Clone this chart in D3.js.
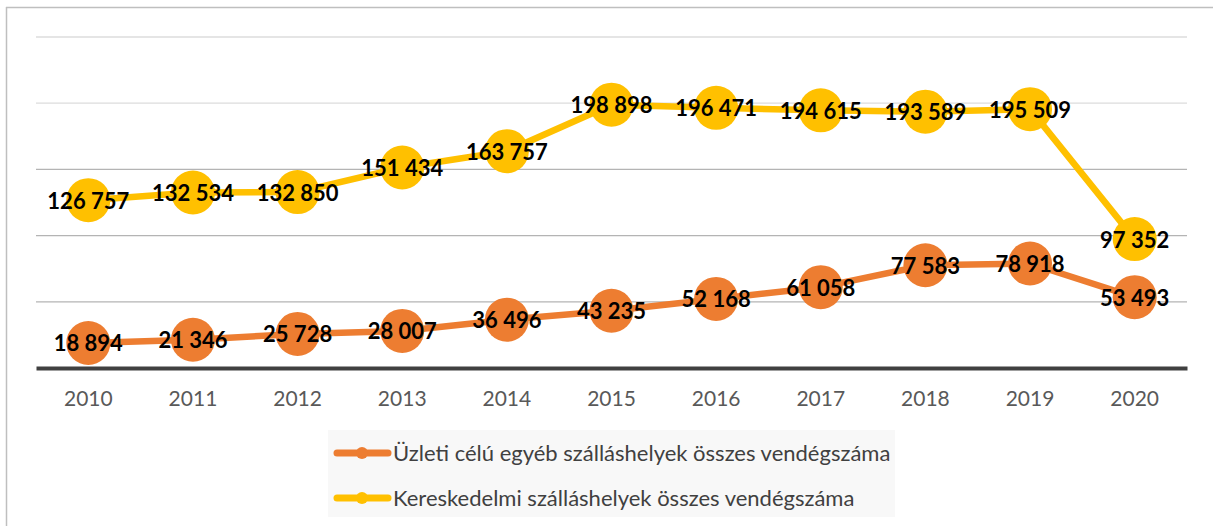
<!DOCTYPE html>
<html>
<head>
<meta charset="utf-8">
<script src="https://cdn.jsdelivr.net/npm/d3@7"></script>
<style>
  html, body { margin: 0; padding: 0; background: #ffffff; }
  svg { display: block; }
</style>
</head>
<body>
<svg id="chart" width="1213" height="526"></svg>
<script>
// Years on the category axis
const years = ["2010", "2011", "2012", "2013", "2014", "2015", "2016", "2017", "2018", "2019", "2020"];

// Guest counts per accommodation type
const uzletiValues = [18894, 21346, 25728, 28007, 36496, 43235, 52168, 61058, 77583, 78918, 53493];
const kereskedelmiValues = [126757, 132534, 132850, 151434, 163757, 198898, 196471, 194615, 193589, 195509, 97352];

const seriesNames = [
  "Üzleti célú egyéb szálláshelyek összes vendégszáma",
  "Kereskedelmi szálláshelyek összes vendégszáma"
];
const seriesColors = ["#ed7d31", "#ffc000"];

const gridTicks = [50000, 100000, 150000, 200000, 250000];

const svg = d3.select("#chart");
const W = 1213, H = 526;

// Outer frame (left and top edges)
svg.append("line").attr("x1", 6.5).attr("x2", 6.5).attr("y1", 7).attr("y2", H)
  .attr("stroke", "#bfbfbf").attr("stroke-width", 1.5);
svg.append("line").attr("x1", 6).attr("x2", W).attr("y1", 7.5).attr("y2", 7.5)
  .attr("stroke", "#bfbfbf").attr("stroke-width", 1.5);

const plotLeft = 36, plotRight = 1187;
const x = d3.scaleBand().domain(years).range([plotLeft, plotRight]);
const y = d3.scaleLinear().domain([0, 250000]).range([368, 37]);

// Horizontal gridlines
svg.append("g").selectAll("line").data(gridTicks).join("line")
  .attr("x1", plotLeft).attr("x2", plotRight)
  .attr("y1", d => y(d)).attr("y2", d => y(d))
  .attr("stroke", d => d >= 200000 ? "#dcdcdc" : "#b4b4b4")
  .attr("stroke-width", 1.3);

// Category axis
const xAxis = svg.append("g").attr("transform", `translate(0,${y(0)})`)
  .call(d3.axisBottom(x).tickSize(0).tickPadding(23));
xAxis.select(".domain").attr("stroke", "#404040").attr("stroke-width", 4);
xAxis.selectAll("text")
  .attr("font-family", "Lato, 'Open Sans', sans-serif")
  .attr("font-size", 21)
  .attr("fill", "#595959");

const series = [
  { name: seriesNames[0], color: seriesColors[0], values: uzletiValues },
  { name: seriesNames[1], color: seriesColors[1], values: kereskedelmiValues }
];

const line = d3.line()
  .x((d, i) => x(years[i]) + x.bandwidth() / 2)
  .y(d => y(d));

const fmt = v => d3.format(",")(v).replace(/,/g, " ");

series.forEach(s => {
  const g = svg.append("g");
  g.append("path").datum(s.values)
    .attr("d", line)
    .attr("fill", "none")
    .attr("stroke", s.color)
    .attr("stroke-width", 6.5)
    .attr("stroke-linejoin", "round");
  g.selectAll("circle").data(s.values).join("circle")
    .attr("cx", (d, i) => x(years[i]) + x.bandwidth() / 2)
    .attr("cy", d => y(d))
    .attr("r", 22)
    .attr("fill", s.color);
});

// Value labels on top of the markers
series.forEach(s => {
  svg.append("g").selectAll("text").data(s.values).join("text")
    .attr("x", (d, i) => x(years[i]) + x.bandwidth() / 2)
    .attr("y", d => y(d) + 8.5)
    .attr("text-anchor", "middle")
    .attr("font-family", "Lato, 'Open Sans', sans-serif")
    .attr("font-weight", "bold")
    .attr("font-size", 22)
    .attr("fill", "#000000")
    .text(d => fmt(d));
});

// Legend
const legend = svg.append("g");
legend.append("rect")
  .attr("x", 328).attr("y", 430).attr("width", 567).attr("height", 87)
  .attr("fill", "#f8f8f8");
const legendRows = [453, 498];
series.forEach((s, i) => {
  const ly = legendRows[i];
  legend.append("line")
    .attr("x1", 337).attr("x2", 388).attr("y1", ly).attr("y2", ly)
    .attr("stroke", s.color).attr("stroke-width", 7).attr("stroke-linecap", "round");
  legend.append("circle").attr("cx", 362).attr("cy", ly).attr("r", 6).attr("fill", s.color);
  legend.append("text")
    .attr("x", 393).attr("y", ly + 7.5)
    .attr("font-family", "Lato, 'Open Sans', sans-serif")
    .attr("font-size", 22)
    .attr("fill", "#404040")
    .text(s.name);
});
</script>
</body>
</html>
